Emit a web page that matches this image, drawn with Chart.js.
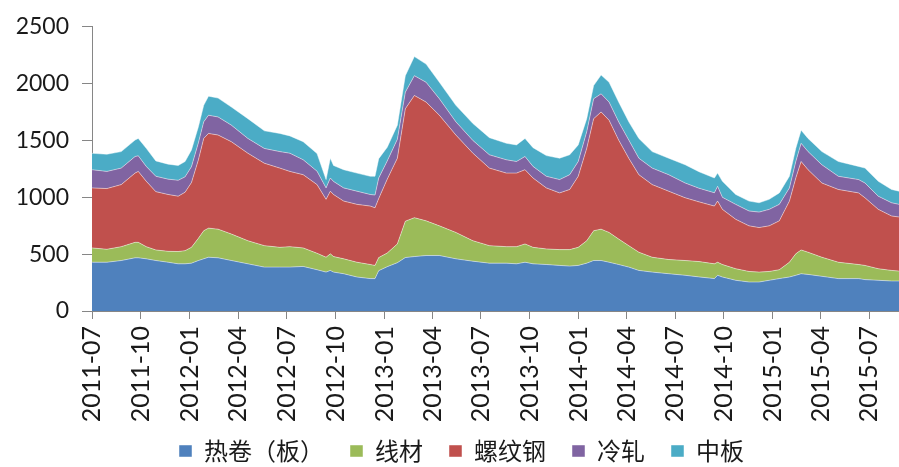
<!DOCTYPE html>
<html>
<head>
<meta charset="utf-8">
<script src="https://cdn.jsdelivr.net/npm/chart.js@4/dist/chart.umd.min.js"></script>
<style>
html,body{margin:0;padding:0;background:#fff;overflow:hidden}
#wrap{width:899px;height:467px;position:relative}
</style>
</head>
<body>
<div id="wrap"><canvas id="c" width="899" height="467"></canvas></div>
<script>
// Observation dates (categories)
const dates = ['2011-07-01','2011-07-29','2011-08-25','2011-09-20','2011-09-26','2011-10-11','2011-10-29','2011-11-21','2011-12-10','2011-12-23',
'2012-01-04','2012-01-17','2012-01-27','2012-02-05','2012-02-23','2012-03-19','2012-04-19','2012-05-20','2012-06-18','2012-07-07',
'2012-08-01','2012-08-27','2012-09-13','2012-09-21','2012-09-27','2012-10-16','2012-11-10','2012-12-05','2012-12-14','2012-12-21',
'2013-01-06','2013-01-25','2013-02-09','2013-02-26','2013-03-20','2013-04-14','2013-05-15','2013-06-16','2013-07-17','2013-08-18',
'2013-09-06','2013-09-22','2013-10-07','2013-11-01','2013-11-26','2013-12-15','2013-12-31','2014-01-16','2014-01-29','2014-02-12',
'2014-02-27','2014-03-17','2014-04-05','2014-04-24','2014-05-19','2014-06-19','2014-07-20','2014-08-15','2014-09-13','2014-09-19',
'2014-09-28','2014-10-23','2014-11-17','2014-12-06','2014-12-25','2015-01-13','2015-02-01','2015-02-13','2015-02-23','2015-03-08',
'2015-04-03','2015-05-04','2015-06-11','2015-06-23','2015-07-18','2015-08-12','2015-08-26'];

// Series values (stacked layers)
const hotRolled = [429,429,444,468,468,459,444,429,415,415,421,444,459,473,468,444,415,386,386,386,392,363,342,357,342,328,299,285,285,355,390,425,470,479,488,488,459,438,421,421,415,429,415,409,401,395,401,421,444,444,429,409,386,357,342,328,314,300,285,314,299,270,255,255,270,285,299,314,328,322,305,285,285,276,270,264,264];
const wireRod = [126,114,122,136,136,107,93,96,108,116,139,196,247,256,252,233,203,189,174,180,163,145,131,146,137,131,130,124,116,115,120,165,320,342,305,261,232,180,154,145,151,161,145,137,139,145,159,197,262,276,262,224,189,160,131,125,130,135,130,115,110,102,93,87,78,78,130,189,209,195,168,144,124,125,102,93,87];
const rebar = [528,534,546,609,624,575,513,500,487,514,570,690,812,833,828,812,770,725,697,662,644,604,509,551,546,508,509,514,507,520,650,754,989,1075,1045,973,857,770,682,647,647,653,610,537,499,529,625,813,986,1031,987,871,769,682,639,601,552,525,508,538,485,435,401,392,401,430,538,667,778,726,653,640,630,595,522,479,476];
const coldRolled = [160,151,145,146,137,131,135,135,140,135,140,150,146,160,159,146,130,130,145,160,131,118,101,116,115,116,116,102,112,180,160,166,146,174,174,145,116,112,117,117,102,116,102,102,117,130,130,146,175,159,160,160,160,145,145,145,130,120,117,130,106,131,131,136,145,145,116,145,160,159,160,116,117,130,116,116,111];
const plate = [144,151,145,145,153,159,135,132,130,135,147,140,145,168,166,159,174,155,160,152,159,155,73,174,140,160,159,160,165,170,120,125,145,168,160,145,145,149,151,145,146,159,165,182,188,175,146,115,116,166,174,174,160,174,145,145,160,145,130,116,141,87,87,82,88,101,102,116,116,116,116,130,116,131,131,117,116];

const seriesNames = ['热卷（板）','线材','螺纹钢','冷轧','中板'];
const seriesColors = ['#4F81BD','#9BBB59','#C0504D','#8064A2','#4BACC6'];
const tickLabels = ['2011-07','2011-10','2012-01','2012-04','2012-07','2012-10','2013-01','2013-04','2013-07','2013-10','2014-01','2014-04','2014-07','2014-10','2015-01','2015-04','2015-07'];
const yMin = 0, yMax = 2500, yStep = 500;

const base = Date.UTC(2011, 6, 1);
function dayOf(s){ const p = s.split('-').map(Number); return (Date.UTC(p[0], p[1]-1, p[2] || 1) - base) / 86400000; }
const xs = dates.map(dayOf);
const tickDays = tickLabels.map(dayOf);

const allSeries = [hotRolled, wireRod, rebar, coldRolled, plate];
const datasets = allSeries.map((vals, i) => ({
  label: seriesNames[i],
  data: vals.map((v, j) => ({x: xs[j], y: v})),
  backgroundColor: seriesColors[i],
  borderColor: 'rgba(255,255,255,0.45)',
  borderWidth: 1,
  pointRadius: 0,
  tension: 0,
  fill: i === 0 ? 'origin' : '-1'
}));

const legendShift = {
  id: 'legendShift',
  afterLayout(chart){
    const l = chart.legend;
    if (!l) return;
    l.top += 6; l.bottom += 6;
    l.left = 179 - 26;
  }
};

new Chart(document.getElementById('c'), {
  type: 'line',
  data: { datasets },
  plugins: [legendShift],
  options: {
    responsive: false,
    animation: false,
    devicePixelRatio: 1,
    layout: { padding: { top: 24, left: 0, right: 0, bottom: 0 } },
    plugins: {
      legend: {
        position: 'bottom',
        align: 'start',
        labels: {
          boxWidth: 13, boxHeight: 12, padding: 26, color: '#1a1a1a',
          font: { family: "'Noto Sans CJK SC', sans-serif", size: 24 }
        }
      },
      tooltip: { enabled: false },
      title: { display: false }
    },
    scales: {
      x: {
        type: 'linear',
        min: 0,
        max: xs[xs.length - 1],
        afterBuildTicks: s => { s.ticks = tickDays.map(v => ({value: v})); },
        afterFit: s => { s.height = 96; s.paddingRight = 0; s.paddingLeft = 0; s._computeLabelArea = () => null; },
        ticks: {
          autoSkip: false, maxRotation: 90, minRotation: 90, padding: 7,
          color: '#1a1a1a', font: { family: 'Lato', size: 25 },
          callback: v => { const k = tickDays.indexOf(v); return k >= 0 ? tickLabels[k] : ''; }
        },
        grid: { display: true, drawOnChartArea: false, drawTicks: true, tickLength: 8, color: '#868686' },
        border: { display: true, color: '#868686', width: 1 }
      },
      y: {
        stacked: true,
        min: yMin, max: yMax,
        afterFit: s => { s.width = 92; },
        ticks: { stepSize: yStep, padding: 13, color: '#1a1a1a', font: { family: 'Lato', size: 23 },
          callback: v => String(v) },
        grid: { display: true, drawOnChartArea: false, drawTicks: true, tickLength: 10, color: '#868686' },
        border: { display: true, color: '#868686', width: 1 }
      }
    }
  }
});
</script>
</body>
</html>
